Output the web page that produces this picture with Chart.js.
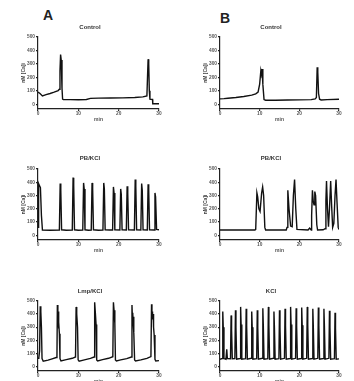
<!DOCTYPE html>
<html>
<head>
<meta charset="utf-8">
<script src="https://cdn.jsdelivr.net/npm/chart.js@4.4.1/dist/chart.umd.min.js"></script>
<style>
    html, body { margin: 0; padding: 0; background: #fff; overflow: hidden; }
    body { width: 354px; height: 381px; position: relative; font-family: "Liberation Sans", Arial, sans-serif; }
    canvas { position: absolute; }
    .letter { position: absolute; font-weight: bold; font-size: 14px; line-height: 14px; color: #222; }
</style>
</head>
<body>
<div class="letter" style="left:43px; top:8px;">A</div>
<div class="letter" style="left:220px; top:11px;">B</div>
<canvas id="ctrlA"></canvas>
<canvas id="ctrlB"></canvas>
<canvas id="pbA"></canvas>
<canvas id="pbB"></canvas>
<canvas id="lmpA"></canvas>
<canvas id="kclB"></canvas>
<script>
// time axis (min) and [Ca]i axis (nM)
const xTicks = [0, 10, 20, 30];
const yTicks = [0, 100, 200, 300, 400, 500];
const titles = ['Control', 'Control', 'PB/KCl', 'PB/KCl', 'Lmp/KCl', 'KCl'];

// traces: [minute, nM]
const controlA = [
    [0, 90], [0.5, 80], [1.1, 62], [2, 72], [3, 80], [4, 90], [5, 102], [5.3, 112],
    [5.45, 250], [5.6, 370], [5.75, 330], [5.95, 120], [6.1, 38], [6.3, 35], [8, 35],
    [10, 34], [12, 36], [13, 44], [15, 46], [18, 47], [21, 48], [24, 50], [26, 55],
    [27, 62], [27.15, 200], [27.3, 335], [27.45, 300], [27.6, 100], [27.75, 38],
    [28.4, 36], [28.45, 4], [30, 4]
];
const controlB = [
    [0, 40], [1, 42], [2, 45], [4, 50], [6, 58], [8, 68], [9, 78], [9.6, 90],
    [10.0, 150], [10.3, 250], [10.45, 225], [10.6, 262], [10.8, 150], [11.1, 35],
    [11.5, 30], [14, 30], [17, 32], [20, 33], [23, 35], [24, 40], [24.3, 50],
    [24.5, 275], [24.65, 240], [24.85, 80], [25.1, 38], [25.5, 32], [27, 35], [30, 38]
];
const pbKclA = [
    [0, 60], [0.15, 390], [0.3, 380], [0.6, 360], [0.85, 150], [1.1, 40], [3, 38],
    [5.3, 40], [5.5, 390], [5.65, 340], [5.85, 42], [7, 38],
    [8.5, 40], [8.7, 435], [8.85, 380], [9.05, 42], [10, 38],
    [11.1, 40], [11.3, 395], [11.45, 350], [11.65, 42], [12.5, 38],
    [13.2, 40], [13.4, 395], [13.55, 350], [13.75, 42], [15, 38],
    [16.1, 40], [16.3, 395], [16.45, 350], [16.65, 42], [17.7, 40],
    [18.5, 40], [18.7, 365], [18.85, 320], [19.05, 42],
    [20.3, 40], [20.5, 350], [20.65, 310], [20.85, 42],
    [21.9, 40], [22.1, 370], [22.25, 320], [22.45, 42],
    [23.9, 40], [24.1, 420], [24.25, 370], [24.45, 42],
    [25.5, 40], [25.7, 390], [25.85, 340], [26.05, 42],
    [27.1, 40], [27.3, 385], [27.45, 340], [27.65, 42],
    [28.8, 40], [29.0, 320], [29.15, 290], [29.4, 45], [30, 42]
];
const pbKclB = [
    [0, 40], [8.8, 40], [9.0, 45], [9.3, 320], [9.5, 290], [9.8, 200], [10.1, 180],
    [10.5, 320], [10.75, 365], [11.0, 300], [11.3, 60], [11.5, 40],
    [16.7, 40], [16.9, 60], [17.1, 340], [17.4, 200], [17.8, 70], [18.2, 65],
    [18.5, 300], [18.8, 420], [19.1, 200], [19.4, 45],
    [22.2, 40], [22.6, 55], [23.0, 40], [23.1, 150], [23.3, 340], [23.5, 260],
    [23.7, 230], [23.9, 330], [24.1, 300], [24.4, 80], [24.6, 40],
    [26.0, 42], [26.5, 50], [26.7, 260], [26.85, 410], [27.1, 200], [27.35, 65],
    [27.6, 200], [27.9, 410], [28.15, 220], [28.4, 60], [28.7, 90], [29.0, 300],
    [29.25, 420], [29.5, 250], [29.8, 60], [30, 45]
];
const lmpKclA = [
    [0, 62], [0.2, 65], [0.4, 120], [0.55, 460], [0.7, 420], [0.85, 300], [1.0, 60],
    [1.3, 40], [2.5, 48], [3.5, 58], [4.5, 68], [4.7, 80],
    [4.8, 470], [4.9, 380], [4.95, 320], [5.0, 420], [5.05, 300], [5.1, 380],
    [5.15, 290], [5.2, 340], [5.3, 250], [5.45, 60], [5.7, 42], [7, 52], [8.5, 62],
    [9.3, 72], [9.45, 455], [9.6, 400], [9.8, 300], [9.95, 50], [10.2, 40],
    [11.5, 50], [13, 62], [13.9, 72], [14.05, 490], [14.2, 420], [14.4, 320],
    [14.55, 50], [14.8, 42], [16, 52], [17.5, 62], [18.55, 74], [18.7, 490],
    [18.85, 430], [19.05, 330], [19.2, 50], [19.45, 42], [20.5, 50], [22, 60],
    [23.15, 72], [23.3, 470], [23.4, 380], [23.45, 410], [23.5, 360], [23.55, 400],
    [23.6, 340], [23.7, 380], [23.8, 260], [23.95, 50], [24.2, 42], [25.5, 50],
    [27, 62], [28.0, 75], [28.15, 475], [28.25, 390], [28.3, 420], [28.35, 370],
    [28.4, 410], [28.45, 360], [28.55, 400], [28.65, 300], [28.8, 240], [29.0, 55],
    [29.2, 42], [30, 44]
];
const kclB = [
    [0, 55], [0.55, 60], [0.7, 420], [0.82, 300], [1.0, 60], [1.5, 55], [1.7, 130],
    [1.85, 60], [2.65, 58], [2.8, 390], [2.92, 280], [3.1, 58], [3.75, 60],
    [3.9, 430], [4.02, 300], [4.2, 55], [5.05, 60],
    [5.2, 455], [5.32, 320], [5.5, 55], [6.45, 60],
    [6.6, 440], [6.72, 310], [6.9, 55], [7.85, 62],
    [8.0, 420], [8.12, 300], [8.3, 55], [9.25, 60],
    [9.4, 430], [9.52, 300], [9.7, 55], [10.65, 62],
    [10.8, 445], [10.92, 310], [11.1, 55], [12.05, 60],
    [12.2, 455], [12.32, 320], [12.5, 55], [13.45, 62],
    [13.6, 420], [13.72, 300], [13.9, 55], [14.85, 60],
    [15.0, 430], [15.12, 300], [15.3, 55], [16.25, 62],
    [16.4, 440], [16.52, 310], [16.7, 55], [17.65, 60],
    [17.8, 455], [17.92, 320], [18.1, 55], [19.05, 62],
    [19.2, 445], [19.32, 310], [19.5, 55], [20.45, 60],
    [20.6, 450], [20.72, 315], [20.9, 55], [21.85, 62],
    [22.0, 455], [22.12, 320], [22.3, 55], [23.25, 60],
    [23.4, 440], [23.52, 310], [23.7, 55], [24.65, 62],
    [24.8, 450], [24.92, 315], [25.1, 55], [26.05, 60],
    [26.2, 440], [26.32, 310], [26.5, 55], [27.45, 62],
    [27.6, 425], [27.72, 300], [27.9, 55], [28.85, 60],
    [29.0, 410], [29.12, 290], [29.3, 55], [30, 58]
];

document.addEventListener('DOMContentLoaded', function() {
    // canvas boxes: left, top, width, height, title padding
    makePanel('ctrlA', controlA, titles[0], 21, 24, 144, 99, 5.8);
    makePanel('ctrlB', controlB, titles[1], 203, 24, 142, 99, 5.8);
    makePanel('pbA', pbKclA, titles[2], 21, 155, 144, 99, 6.8);
    makePanel('pbB', pbKclB, titles[3], 203, 155, 142, 99, 6.8);
    makePanel('lmpA', lmpKclA, titles[4], 21, 288, 144, 97, 5.8);
    makePanel('kclB', kclB, titles[5], 203, 288, 142, 97, 5.8);
});

function makePanel(id, trace, title, left, top, w, h, titlePad) {
    const canvas = document.getElementById(id);
    canvas.style.left = left + 'px';
    canvas.style.top = top + 'px';
    canvas.width = w;
    canvas.height = h;

    const tickFont = { family: 'Liberation Sans', size: 4.8, weight: 'bold' };
    const axisGrid = { drawOnChartArea: false, drawTicks: true, tickLength: 2, color: '#222', lineWidth: 1.2 };

    new Chart(canvas.getContext('2d'), {
        type: 'line',
        data: {
            datasets: [{
                data: trace.map(p => ({ x: p[0], y: p[1] })),
                borderColor: '#111',
                borderWidth: 1.4,
                pointRadius: 0,
                tension: 0,
                fill: false
            }]
        },
        options: {
            responsive: false,
            animation: false,
            layout: { padding: { left: 0, right: 6, top: 0, bottom: 0 } },
            plugins: {
                legend: { display: false },
                tooltip: { enabled: false },
                title: {
                    display: true,
                    text: title,
                    color: '#333',
                    font: { family: 'Liberation Sans', size: 6, weight: 'bold' },
                    padding: { top: 0, bottom: titlePad }
                }
            },
            scales: {
                x: {
                    type: 'linear',
                    min: xTicks[0],
                    max: xTicks[xTicks.length - 1],
                    afterBuildTicks: scale => { scale.ticks = xTicks.map(v => ({ value: v })); },
                    afterFit: scale => { scale.height = 14; },
                    grid: axisGrid,
                    border: { display: true, color: '#222', width: 1.2 },
                    ticks: { font: tickFont, color: '#555', padding: 0, maxRotation: 0 },
                    title: { display: true, text: 'min', color: '#555', font: { family: 'Liberation Sans', size: 5, weight: 'bold' }, padding: 0 }
                },
                y: {
                    min: -35,
                    max: yTicks[yTicks.length - 1],
                    afterBuildTicks: scale => { scale.ticks = yTicks.map(v => ({ value: v })); },
                    afterFit: scale => { scale.width = 17; },
                    grid: axisGrid,
                    border: { display: true, color: '#222', width: 1.2 },
                    ticks: { font: tickFont, color: '#555', padding: 1 },
                    title: { display: true, text: 'nM [Ca]i', color: '#444', font: { family: 'Liberation Sans', size: 5, weight: 'bold' }, padding: 0 }
                }
            }
        }
    });
}
</script>
</body>
</html>
